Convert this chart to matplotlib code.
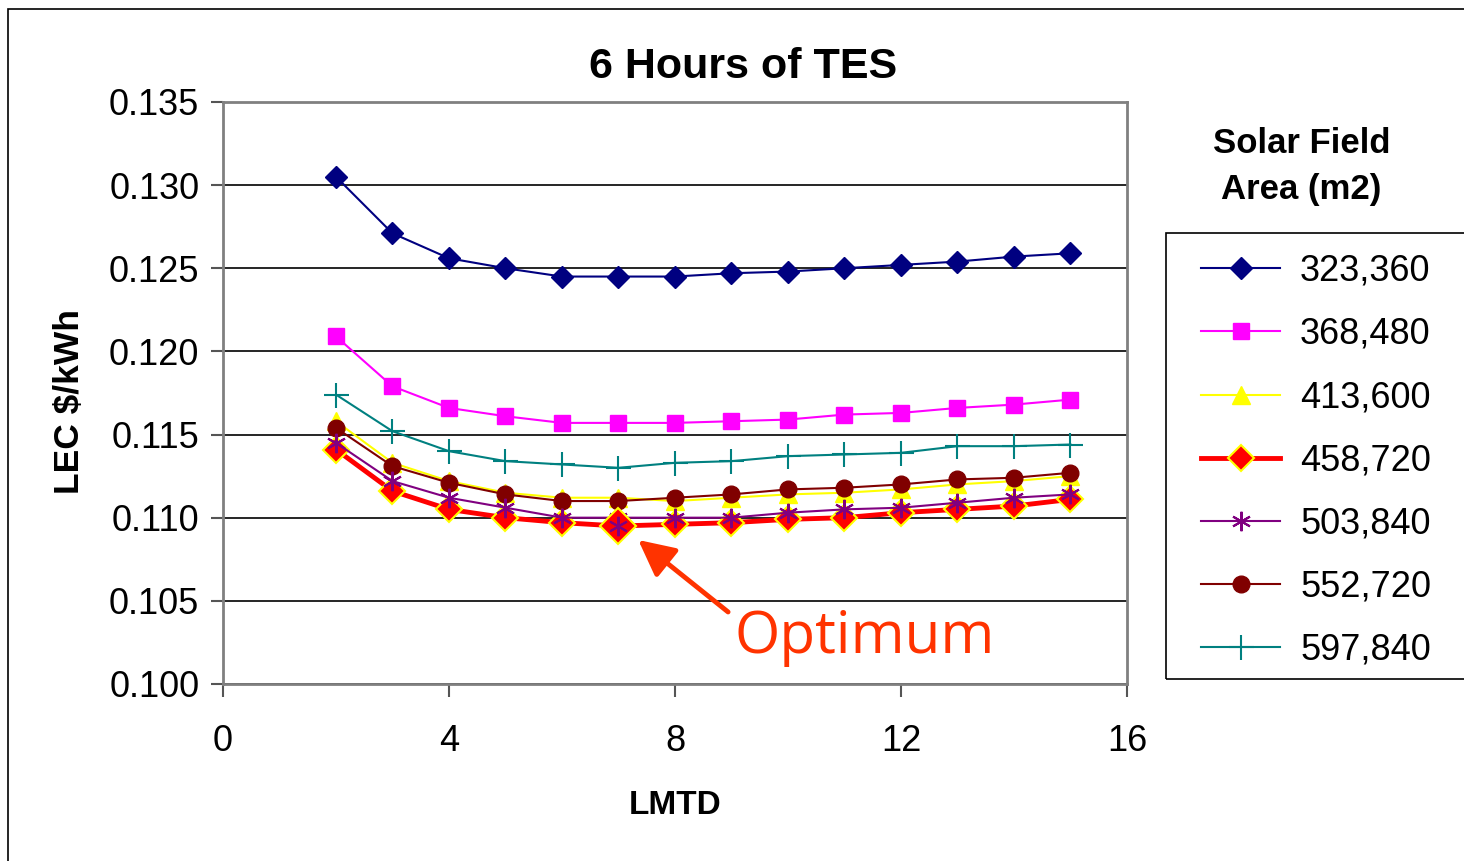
import matplotlib
matplotlib.use("Agg")
import matplotlib.pyplot as plt
from matplotlib.patches import Rectangle

plt.rcParams['font.family'] = ['Liberation Sans', 'DejaVu Sans']

# LMTD values
lmtd = [2, 3, 4, 5, 6, 7, 8, 9, 10, 11, 12, 13, 14, 15]

# solar field areas (legend labels)
areas = ['323,360', '368,480', '413,600', '458,720', '503,840', '552,720', '597,840']

# LEC $/kWh for each solar field area
lec_323 = [0.1305, 0.1271, 0.1256, 0.1250, 0.1245, 0.1245, 0.1245, 0.1247, 0.1248, 0.1250, 0.1252, 0.1254, 0.1257, 0.1259]
lec_368 = [0.1209, 0.1179, 0.1166, 0.1161, 0.1157, 0.1157, 0.1157, 0.1158, 0.1159, 0.1162, 0.1163, 0.1166, 0.1168, 0.1171]
lec_413 = [0.1158, 0.1133, 0.1122, 0.1115, 0.1112, 0.1112, 0.1110, 0.1112, 0.1114, 0.1115, 0.1117, 0.1120, 0.1122, 0.1125]
lec_458 = [0.1141, 0.1116, 0.1105, 0.1100, 0.1097, 0.1095, 0.1096, 0.1097, 0.1099, 0.1100, 0.1103, 0.1105, 0.1107, 0.1111]
lec_503 = [0.1145, 0.1122, 0.1112, 0.1106, 0.1100, 0.1100, 0.1100, 0.1100, 0.1103, 0.1105, 0.1106, 0.1109, 0.1112, 0.1114]
lec_552 = [0.1154, 0.1131, 0.1121, 0.1114, 0.1110, 0.1110, 0.1112, 0.1114, 0.1117, 0.1118, 0.1120, 0.1123, 0.1124, 0.1127]
lec_597 = [0.1174, 0.1152, 0.1140, 0.1134, 0.1132, 0.1130, 0.1133, 0.1134, 0.1137, 0.1138, 0.1139, 0.1143, 0.1143, 0.1144]

optimum_x = 7
optimum_y = 0.1095

fig = plt.figure(figsize=(14.64, 8.61), dpi=100)
ax = fig.add_axes([0.1523, 0.2056, 0.6175, 0.6760])

# outer chart border
fig.patches.append(Rectangle((0.0055, -0.01), 1.2, 1.0, transform=fig.transFigure,
                             fill=False, edgecolor='black', linewidth=1.2))

handles = []
h, = ax.plot(lmtd, lec_323, color='#000080', marker='D', markersize=11, lw=1.5, label=areas[0])
handles.append(h)
h, = ax.plot(lmtd, lec_368, color='#FF00FF', marker='s', markersize=12, lw=1.5, label=areas[1])
handles.append(h)
h, = ax.plot(lmtd, lec_413, color='#FFFF00', marker='^', markersize=13, lw=1.5, label=areas[2])
handles.append(h)
h, = ax.plot(lmtd, lec_552, color='#800000', marker='o', markersize=12, lw=1.5, label=areas[5], zorder=3)
handles_552 = h
h, = ax.plot(lmtd, lec_458, color='#FF0000', marker='D', markersize=13, markeredgecolor='#FFFF00',
             markeredgewidth=1.5, lw=3.5, label=areas[3], zorder=4)
handles.append(h)
h, = ax.plot(lmtd, lec_503, color='#800080', marker=(6, 2, 0), markersize=14, markeredgewidth=1.5,
             lw=1.5, label=areas[4], zorder=5)
handles.append(h)
handles.append(handles_552)
h, = ax.plot(lmtd, lec_597, color='#008080', marker='+', markersize=18, markeredgewidth=1.5, lw=1.5, label=areas[6])
handles.append(h)

# highlighted optimum point
ax.plot([optimum_x], [optimum_y], marker='D', markersize=18, color='#FF0000',
        markeredgecolor='#FFFF00', markeredgewidth=1.5, zorder=6)
ax.plot([optimum_x], [optimum_y], marker=(6, 2, 0), markersize=14, color='#800080',
        markeredgewidth=1.5, zorder=7)

# arrow and label
ax.annotate('', xy=(7.35, 0.10866), xytext=(8.94, 0.10433),
            arrowprops=dict(arrowstyle='-|>,head_length=1.1,head_width=0.55', color='#FF3300',
                            lw=3.5, shrinkA=0, shrinkB=0, mutation_scale=20))
ax.text(9.06, 0.10277, 'Optimum', fontsize=42, color='#FF3300',
        family=['Open Sans', 'DejaVu Sans'], va='center', ha='left')

ax.set_xlim(0, 16)
ax.set_ylim(0.100, 0.135)
ax.set_xticks([0, 4, 8, 12, 16])
ax.set_yticks([0.100, 0.105, 0.110, 0.115, 0.120, 0.125, 0.130, 0.135])
ax.set_yticklabels(['%.3f' % v for v in ax.get_yticks()])
ax.tick_params(axis='both', labelsize=26, direction='out', length=9, width=1.5, color='#555555')
ax.tick_params(axis='x', pad=20)
ax.tick_params(axis='y', pad=8)
ax.yaxis.grid(True, color='black', lw=1.2)
ax.set_axisbelow(True)
for s in ax.spines.values():
    s.set_color('#808080')
    s.set_linewidth(2)

fig.text(0.5075, 0.9222, '6 Hours of TES', fontsize=31, fontweight='bold', ha='center', va='center')
ax.set_xlabel('LMTD', fontsize=24, fontweight='bold', labelpad=22)
ax.set_ylabel('LEC $/kWh', fontsize=25.5, fontweight='bold')
ax.yaxis.set_label_coords(-0.152, 0.4845)

fig.text(0.889, 0.8065, 'Solar Field\nArea (m2)', fontsize=25, fontweight='bold',
         ha='center', va='center', linespacing=1.5)

# legend box runs off the right edge
fig.patches.append(Rectangle((1166 / 1464, 1 - 679 / 861), 0.3, (679 - 233) / 861,
                             transform=fig.transFigure, fill=False, edgecolor='black', linewidth=1.2))
leg = fig.legend(handles=handles, loc='upper left', bbox_to_anchor=(1190 / 1464, 1 - 243 / 861),
                 fontsize=26, frameon=False,
                 handlelength=2.2, handletextpad=0.55, labelspacing=0.78,
                 borderpad=0.3, borderaxespad=0)

fig.savefig('out.png', dpi=100)
